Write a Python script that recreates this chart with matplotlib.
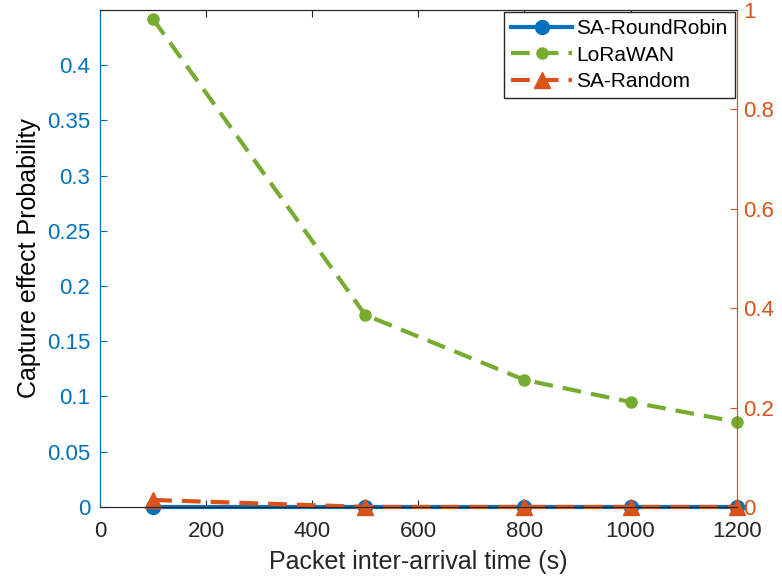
import numpy as np
import matplotlib.pyplot as plt

x = [100, 500, 800, 1000, 1200]
rr = [0, 0, 0, 0, 0]
lorawan = [0.4416, 0.1738, 0.115, 0.095, 0.077]
sa_random = [0.014, 0, 0, 0, 0]

blue = '#0072BD'
green = '#77AC30'
orange = '#D95319'
grey = '#262626'

plt.rcParams['font.family'] = ['Arial', 'Liberation Sans', 'DejaVu Sans']

fig = plt.figure(figsize=(7.82, 5.82), dpi=100)
ax = fig.add_axes([0.128, 0.129, 0.814, 0.854])
ax2 = ax.twinx()

l1, = ax.plot(x, rr, '-o', color=blue, lw=3, ms=10, label='SA-RoundRobin', clip_on=False)
l2, = ax.plot(x, lorawan, '--.', color=green, lw=3, ms=16, label='LoRaWAN', dashes=(4.5, 2.4), clip_on=False)
l3, = ax2.plot(x, sa_random, '--^', color=orange, lw=3, ms=11, label='SA-Random', dashes=(4.5, 2.4), clip_on=False)

ax.set_xlim(0, 1200)
ax.set_ylim(0, 0.45)
ax2.set_ylim(0, 1)
ax.set_xticks(np.arange(0, 1201, 200))
ax.set_yticks(np.arange(0, 0.41, 0.05))
ax.set_yticklabels(['0', '0.05', '0.1', '0.15', '0.2', '0.25', '0.3', '0.35', '0.4'])
ax2.set_yticks(np.arange(0, 1.01, 0.2))
ax2.set_yticklabels(['0', '0.2', '0.4', '0.6', '0.8', '1'])

ax.tick_params(axis='x', direction='in', top=True, colors=grey, labelsize=16, length=5, pad=10)
ax.tick_params(axis='y', direction='in', colors=blue, labelsize=16, length=5, pad=7)
ax2.tick_params(axis='y', direction='in', colors=orange, labelsize=16, length=5, pad=5)
ax.set_xlabel('Packet inter-arrival time (s)', fontsize=18, color=grey, labelpad=6)
ax.set_ylabel('Capture effect Probability', fontsize=18, color='black', labelpad=4)

for a in (ax, ax2):
    a.spines['bottom'].set_color(grey)
    a.spines['top'].set_color(grey)
    a.spines['left'].set_color(blue)
    a.spines['right'].set_color(orange)

leg = ax2.legend([l1, l2, l3], ['SA-RoundRobin', 'LoRaWAN', 'SA-Random'],
                 loc='upper right', fontsize=15, fancybox=False, framealpha=1,
                 edgecolor=grey, borderaxespad=0.1, handlelength=2.9,
                 handletextpad=0.2, labelspacing=0.35, borderpad=0.35)
leg.get_frame().set_linewidth(1)
leg.set_zorder(5)

fig.savefig('out.png', dpi=100)
